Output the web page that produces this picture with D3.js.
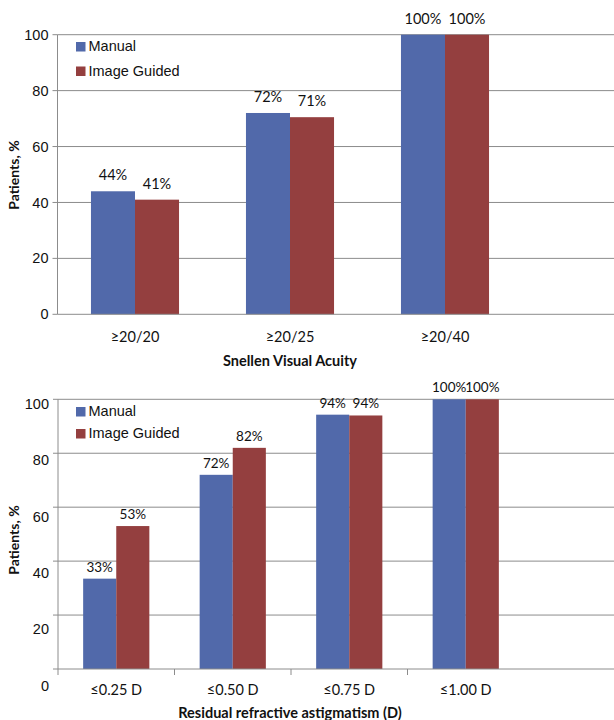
<!DOCTYPE html>
<html>
<head>
<meta charset="utf-8">
<script src="https://cdn.jsdelivr.net/npm/d3@7"></script>
<style>
  body { margin: 0; background: #fff; }
  svg { display: block; }
</style>
</head>
<body>
<svg id="chart" width="614" height="720"></svg>
<script>
// ---- Data ----
const seriesNames = ["Manual", "Image Guided"];
const topCategories = ["≥20/20", "≥20/25", "≥20/40"];
const topManual = [44, 72, 100];
const topImageGuided = [41, 70.5, 100];
const topManualLabels = ["44%", "72%", "100%"];
const topImageGuidedLabels = ["41%", "71%", "100%"];
const topTitle = "Snellen Visual Acuity";

const botCategories = ["≤0.25 D", "≤0.50 D", "≤0.75 D", "≤1.00 D"];
const botManual = [33.5, 72, 94.3, 100];
const botImageGuided = [53, 82, 94, 100];
const botManualLabels = ["33%", "72%", "94%", "100%"];
const botImageGuidedLabels = ["53%", "82%", "94%", "100%"];
const botTitle = "Residual refractive astigmatism (D)";

const yTicks = [0, 20, 40, 60, 80, 100];
const yTitle = "Patients, %";

// ---- Styles ----
const colors = ["#5169AA", "#943F3F"];
const gridColor = "#8c8c8c";
const sansFont = "'Liberation Sans', Arial, sans-serif";
const humanFont = "Lato, 'Open Sans', sans-serif";

const svg = d3.select("#chart");

function drawPanel(cfg) {
  const g = svg.append("g");
  const y = d3.scaleLinear().domain([0, 100]).range([cfg.y0, cfg.y100]);
  const yLab = d3.scaleLinear().domain([0, 100]).range([cfg.lab0, cfg.lab100]);
  const x = d3.scaleBand().domain(cfg.categories).range([cfg.xLeft, cfg.xRight]);
  const inner = d3.scaleBand().domain(seriesNames)
    .range([0, x.bandwidth()]).paddingInner(0).paddingOuter(cfg.outerPad);

  // gridlines
  g.selectAll(".grid").data(yTicks.filter(d => d > 0)).join("line")
    .attr("x1", cfg.xLeft).attr("x2", 614)
    .attr("y1", d => y(d)).attr("y2", d => y(d))
    .attr("stroke", gridColor).attr("stroke-width", 1);

  // y axis line + ticks
  g.append("line").attr("x1", cfg.xLeft).attr("x2", cfg.xLeft)
    .attr("y1", y(100)).attr("y2", y(0) + (cfg.xTicks ? 6 : 0))
    .attr("stroke", gridColor);
  g.selectAll(".ytick").data(yTicks).join("line")
    .attr("x1", cfg.xLeft - 5).attr("x2", cfg.xLeft)
    .attr("y1", d => y(d)).attr("y2", d => y(d))
    .attr("stroke", gridColor);
  g.selectAll(".ylab").data(yTicks).join("text")
    .attr("x", cfg.xLeft - 9).attr("y", d => yLab(d))
    .attr("dy", "0.35em").attr("text-anchor", "end")
    .style("font-family", sansFont).style("font-size", "14.5px").attr("fill", "#111")
    .text(d => d);

  // bars
  const data = cfg.categories.map((c, i) => ({
    cat: c,
    vals: [
      { s: seriesNames[0], v: cfg.manual[i], lab: cfg.manualLabels[i] },
      { s: seriesNames[1], v: cfg.image[i], lab: cfg.imageLabels[i] }
    ]
  }));
  const grp = g.selectAll(".grp").data(data).join("g")
    .attr("transform", d => `translate(${x(d.cat)},0)`);
  grp.selectAll("rect").data(d => d.vals).join("rect")
    .attr("x", d => inner(d.s)).attr("width", inner.bandwidth())
    .attr("y", d => y(d.v)).attr("height", d => y(0) - y(d.v))
    .attr("fill", (d, i) => colors[i]);
  grp.selectAll("text").data(d => d.vals).join("text")
    .attr("x", d => inner(d.s) + inner.bandwidth() / 2)
    .attr("y", d => y(d.v) - cfg.labelGap)
    .attr("text-anchor", "middle")
    .style("font-family", humanFont).style("font-size", cfg.labelSize).attr("fill", "#111")
    .text(d => d.lab);

  // x axis line
  g.append("line").attr("x1", cfg.xLeft).attr("x2", 614)
    .attr("y1", y(0)).attr("y2", y(0)).attr("stroke", gridColor);
  if (cfg.xTicks) {
    g.selectAll(".xtick").data(cfg.categories.slice(1)).join("line")
      .attr("x1", d => x(d)).attr("x2", d => x(d))
      .attr("y1", y(0)).attr("y2", y(0) + 6).attr("stroke", gridColor);
  }
  g.selectAll(".xlab").data(cfg.categories).join("text")
    .attr("x", d => x(d) + x.bandwidth() / 2).attr("y", cfg.catY)
    .attr("text-anchor", "middle")
    .style("font-family", humanFont).style("font-size", "14.5px").attr("fill", "#111")
    .text(d => d);

  // x title
  g.append("text").attr("x", cfg.titleX).attr("y", cfg.titleY)
    .attr("text-anchor", "middle")
    .style("font-family", humanFont).style("font-size", "14.5px").style("font-weight", "bold")
    .attr("fill", "#111").text(cfg.title);

  // y title
  g.append("text")
    .attr("transform", `translate(${cfg.yTitleX},${cfg.yTitleY}) rotate(-90)`)
    .attr("text-anchor", "middle")
    .style("font-family", humanFont).style("font-size", "14px").style("font-weight", "bold")
    .attr("fill", "#111").text(yTitle);

  // legend
  const lg = g.selectAll(".leg").data(seriesNames).join("g")
    .attr("transform", (d, i) => `translate(${cfg.legX},${cfg.legY + i * cfg.legStep})`);
  lg.append("rect").attr("x", 0).attr("y", -9).attr("width", 9.5).attr("height", 9.5)
    .attr("fill", (d, i) => colors[i]);
  lg.append("text").attr("x", 12.5).attr("y", 0)
    .style("font-family", sansFont).style("font-size", "14.5px").attr("fill", "#111")
    .text(d => d);
}

drawPanel({
  categories: topCategories, manual: topManual, image: topImageGuided,
  manualLabels: topManualLabels, imageLabels: topImageGuidedLabels,
  title: topTitle,
  y0: 314.3, y100: 34.7, lab0: 314.3, lab100: 34.7,
  xLeft: 57.5, xRight: 522.5, outerPad: 0.76,
  labelGap: 11, labelSize: "14.5px", xTicks: false,
  catY: 342, titleX: 290, titleY: 366,
  yTitleX: 19, yTitleY: 175,
  legX: 76, legY: 51, legStep: 24.5
});

drawPanel({
  categories: botCategories, manual: botManual, image: botImageGuided,
  manualLabels: botManualLabels, imageLabels: botImageGuidedLabels,
  title: botTitle,
  y0: 669, y100: 399.3, lab0: 685.7, lab100: 404,
  xLeft: 58, xRight: 524, outerPad: 0.76,
  labelGap: 7, labelSize: "13.5px", xTicks: true,
  catY: 695, titleX: 290, titleY: 718,
  yTitleX: 19, yTitleY: 540,
  legX: 76, legY: 416, legStep: 22
});
</script>
</body>
</html>
